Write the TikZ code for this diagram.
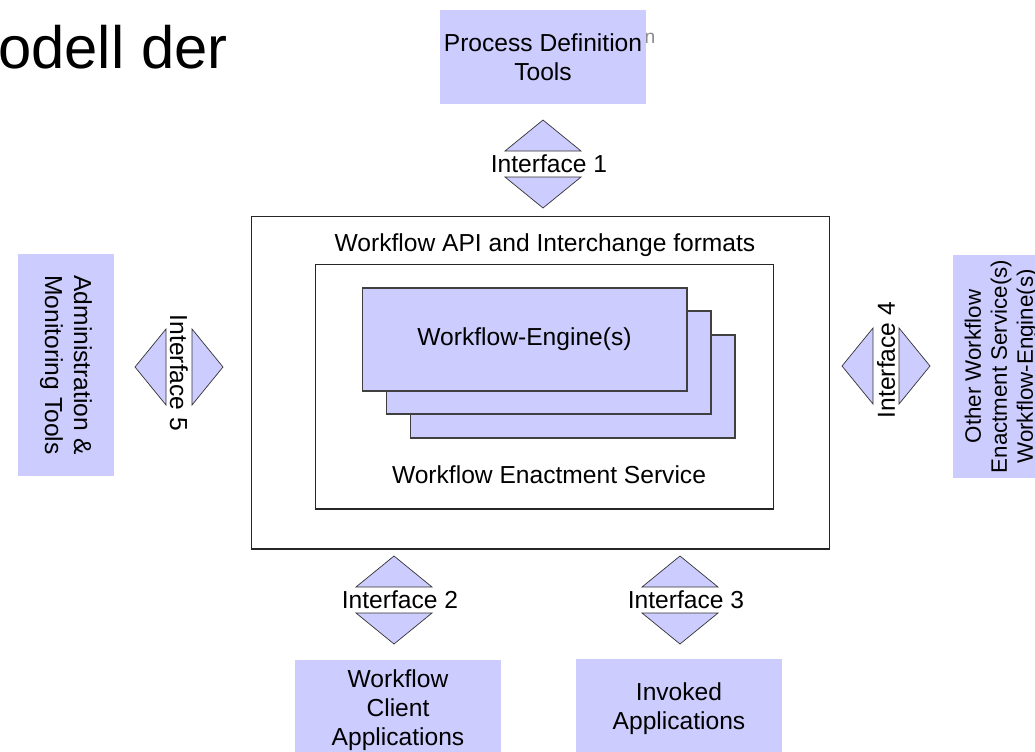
\documentclass[tikz,border=0pt]{standalone}
\usepackage{fontspec}
\setmainfont{Liberation Sans}
\usepackage{xcolor}
\usepackage{tikz}
\usetikzlibrary{calc}
\usetikzlibrary{positioning}
\definecolor{lav}{RGB}{204,204,255}

\begin{document}
\begin{tikzpicture}[x=0.02cm, y=-0.02cm,
  tool/.style={rectangle, fill=lav, draw=none, align=center, inner sep=0, font=\fontsize{14}{16.5}\selectfont},
  frame/.style={rectangle, draw=black!85, fill=white, line width=0.6pt, inner sep=0},
  engine/.style={rectangle, draw=black!75, fill=lav, line width=0.6pt, minimum width=6.5cm, minimum height=2.06cm, inner sep=0, font=\fontsize{14}{16.5}\selectfont},
  tri/.style={draw=black!80, fill=lav, line width=0.4pt},
  lbl/.style={inner sep=0, font=\fontsize{14}{16.5}\selectfont}]
\useasboundingbox (0, 0) rectangle (1035, 751);
\node [inner sep=0, anchor=base west, font=\fontsize{34}{40}\selectfont] (title) at (-2, 68) {odell der};
\node [inner sep=0, text=black!45, font=\fontsize{11}{12}\selectfont] (frag) at (650, 38) {n};
\node [tool, minimum width=4.12cm, minimum height=1.88cm] (pdt) at (543, 57) {Process Definition\\Tools};
\node [tool, minimum width=4.12cm, minimum height=2cm] (wca) at (398, 710) {Workflow\\Client\\Applications};
\node [tool, minimum width=4.12cm, minimum height=2cm] (inv) at (679, 709) {Invoked\\Applications};
\node [tool, rotate=-90, minimum width=4.44cm, minimum height=1.92cm] (adm) at (66, 365) {Administration \&\\Monitoring Tools};
\node [tool, rotate=90, minimum width=4.46cm, minimum height=1.92cm, font=\fontsize{12.7}{14.8}\selectfont] (oth) at (1001, 366.5) {Other Workflow\\Enactment Service(s)\\Workflow-Engine(s)};
\node [frame, minimum width=11.58cm, minimum height=6.66cm] (api) at (540.5, 382.5) {};
\node [frame, minimum width=9.18cm, minimum height=4.9cm] (wes) at (544.5, 386.5) {};
\node [engine] (eng3) at (572.5, 386.5) {};
\node [engine] (eng2) at (548.5, 362.5) {};
\node [engine] (eng1) at (524.5, 339.5) {Workflow-Engine(s)};
\node [lbl] (apitxt) at (545, 245) {Workflow API and Interchange formats};
\node [lbl] (westxt) at (549, 475) {Workflow Enactment Service};
\foreach \x/\y in {543/164, 394/600, 680/600} {
  \draw [tri] (\x-38, \y-13) -- (\x, \y-44) -- (\x+38, \y-13) -- cycle;
  \draw [tri] (\x-38, \y+13) -- (\x, \y+44) -- (\x+38, \y+13) -- cycle;
}
\foreach \x/\y in {179/367, 886/366} {
  \draw [tri] (\x-13, \y-38) -- (\x-44, \y) -- (\x-13, \y+38) -- cycle;
  \draw [tri] (\x+13, \y-38) -- (\x+44, \y) -- (\x+13, \y+38) -- cycle;
}
\node [lbl] (if1) at (549, 164) {Interface 1};
\node [lbl] (if2) at (400, 600) {Interface 2};
\node [lbl] (if3) at (686, 600) {Interface 3};
\node [lbl, rotate=90] (if4) at (886, 360) {Interface 4};
\node [lbl, rotate=-90] (if5) at (179, 373) {Interface 5};
\end{tikzpicture}
\end{document}
